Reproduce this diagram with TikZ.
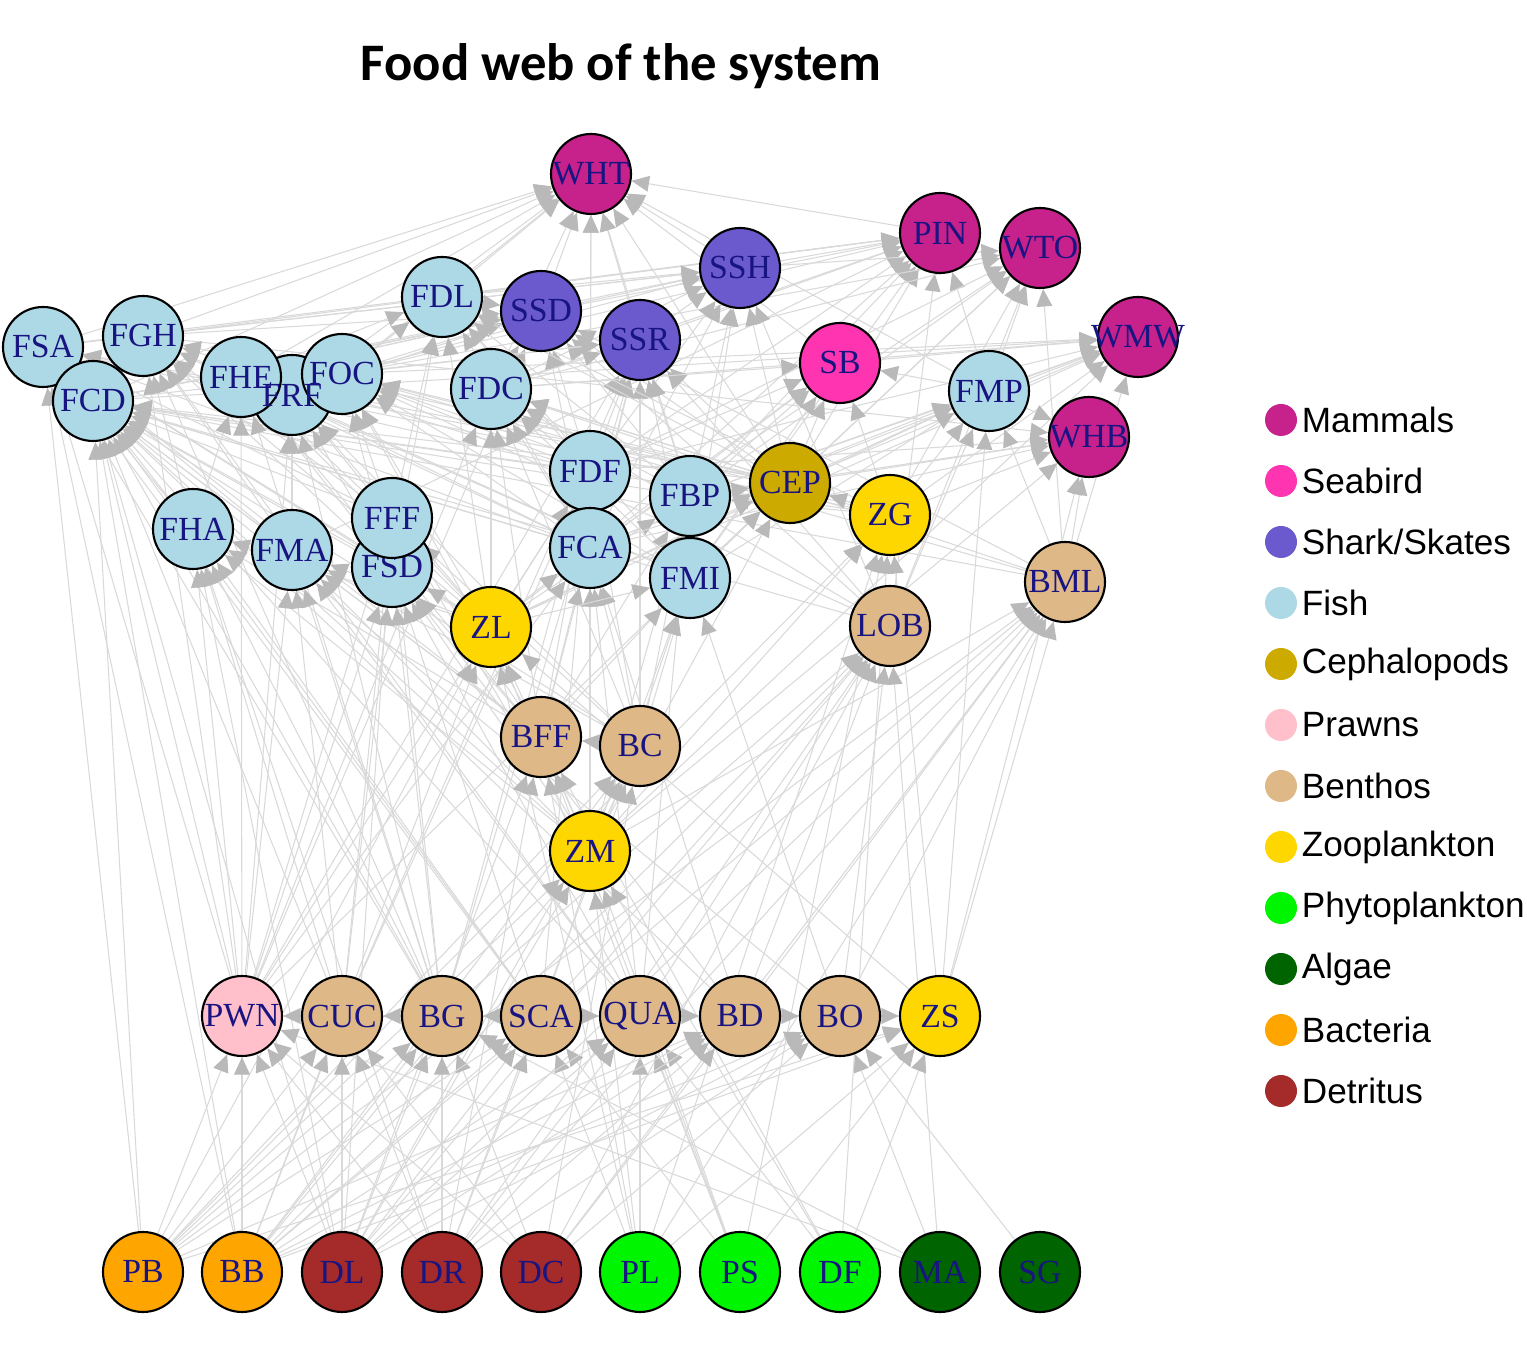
\documentclass[tikz,border=0pt]{standalone}
\usepackage{fontspec}
\setmainfont{Liberation Serif}
\newfontfamily\titlefont{Carlito}
\newfontfamily\legfont{Liberation Sans}
\usetikzlibrary{arrows.meta,positioning,backgrounds}

\definecolor{mammalc}{RGB}{199,33,140}
\definecolor{seabirdc}{RGB}{255,52,176}
\definecolor{sharkc}{RGB}{106,90,205}
\definecolor{fishc}{RGB}{173,216,230}
\definecolor{cephc}{RGB}{205,170,0}
\definecolor{prawnc}{RGB}{255,192,203}
\definecolor{benthc}{RGB}{222,184,135}
\definecolor{zooc}{RGB}{255,215,0}
\definecolor{phytoc}{RGB}{0,245,0}
\definecolor{algaec}{RGB}{0,100,0}
\definecolor{bactc}{RGB}{255,165,0}
\definecolor{detrc}{RGB}{165,42,42}
\definecolor{labelc}{RGB}{24,20,130}

\begin{document}
\begin{tikzpicture}
  \tikzstyle{sptxt}   = [inner sep=0pt,text=labelc,font=\fontsize{9.6}{10}\selectfont,
                         execute at begin node={\hbox to 0pt\bgroup\hss},execute at end node={\hss\egroup}]
  \tikzstyle{sp}      = [sptxt,circle,draw=black,line width=0.6pt,minimum size=0.8cm]
  \tikzstyle{mammal}  = [sp,fill=mammalc]
  \tikzstyle{seabird} = [sp,fill=seabirdc]
  \tikzstyle{shark}   = [sp,fill=sharkc]
  \tikzstyle{fish}    = [sp,fill=fishc]
  \tikzstyle{cephal}  = [sp,fill=cephc]
  \tikzstyle{prawn}   = [sp,fill=prawnc]
  \tikzstyle{benthos} = [sp,fill=benthc]
  \tikzstyle{zoo}     = [sp,fill=zooc]
  \tikzstyle{phyto}   = [sp,fill=phytoc]
  \tikzstyle{algae}   = [sp,fill=algaec]
  \tikzstyle{bact}    = [sp,fill=bactc]
  \tikzstyle{detr}    = [sp,fill=detrc]
  \tikzstyle{feed}    = [draw=gray!30,line width=0.3pt,-{Triangle[length=5pt,width=4.5pt,color=gray!55]}]
  \tikzstyle{legdot}  = [circle,minimum size=0.32cm,inner sep=0pt]
  \tikzstyle{legtxt}  = [inner sep=1pt,anchor=west,font=\legfont\fontsize{10}{12}\selectfont]
  \useasboundingbox (0,0) rectangle (15.27,13.48);

  \node[font=\titlefont\bfseries\fontsize{15}{18}\selectfont] (title) at (6.21,12.82) {Food web of the system};

  % top predators
  \node[mammal]  (WHT) at (5.91,11.74) {WHT};
  \node[mammal]  (PIN) at (9.40,11.15) {PIN};
  \node[mammal]  (WTO) at (10.40,11.00) {WTO};
  \node[mammal]  (WMW) at (11.38,10.11) {WMW};
  \node[mammal]  (WHB) at (10.89,9.11) {WHB};
  \node[shark]   (SSH) at (7.40,10.80) {SSH};
  \node[shark]   (SSD) at (5.41,10.37) {SSD};
  \node[shark]   (SSR) at (6.40,10.08) {SSR};
  \node[seabird] (SB)  at (8.40,9.85) {SB};

  % fish
  \node[fish] (FDL) at (4.42,10.51) {FDL};
  \node[fish] (FSA) at (0.43,10.01) {FSA};
  \node[fish] (FGH) at (1.43,10.12) {FGH};
  \node[fish] (FCD) at (0.93,9.47) {FCD};
  \node[fish] (FRF) at (2.92,9.53) {};
  \node[fish] (FHE) at (2.41,9.71) {FHE};
  \node[fish] (FOC) at (3.42,9.74) {FOC};
  \node[sptxt] (FRFtxt) at (FRF) {FRF};
  \node[fish] (FDC) at (4.91,9.59) {FDC};
  \node[fish] (FMP) at (9.89,9.57) {FMP};
  \node[fish] (FDF) at (5.90,8.77) {FDF};
  \node[fish] (FBP) at (6.90,8.52) {FBP};
  \node[fish] (FHA) at (1.93,8.19) {FHA};
  \node[fish] (FMA) at (2.92,7.98) {FMA};
  \node[fish] (FSD) at (3.92,7.81) {FSD};
  \node[fish] (FFF) at (3.92,8.30) {FFF};
  \node[fish] (FCA) at (5.90,8.00) {FCA};
  \node[fish] (FMI) at (6.90,7.70) {FMI};

  \node[cephal]  (CEP) at (7.90,8.65) {CEP};
  \node[zoo]     (ZG)  at (8.90,8.33) {ZG};
  \node[zoo]     (ZL)  at (4.91,7.21) {ZL};
  \node[benthos] (BML) at (10.65,7.66) {BML};
  \node[benthos] (LOB) at (8.90,7.22) {LOB};
  \node[benthos] (BFF) at (5.41,6.11) {BFF};
  \node[benthos] (BC)  at (6.40,6.02) {BC};
  \node[zoo]     (ZM)  at (5.90,4.97) {ZM};

  % lower row
  \node[prawn]   (PWN) at (2.42,3.32) {PWN};
  \node[benthos] (CUC) at (3.42,3.32) {CUC};
  \node[benthos] (BG)  at (4.42,3.32) {BG};
  \node[benthos] (SCA) at (5.41,3.32) {SCA};
  \node[benthos] (QUA) at (6.40,3.32) {QUA};
  \node[benthos] (BD)  at (7.40,3.32) {BD};
  \node[benthos] (BO)  at (8.40,3.32) {BO};
  \node[zoo]     (ZS)  at (9.40,3.32) {ZS};

  % basal row
  \node[bact]  (PB) at (1.43,0.76) {PB};
  \node[bact]  (BB) at (2.42,0.76) {BB};
  \node[detr]  (DL) at (3.42,0.76) {DL};
  \node[detr]  (DR) at (4.42,0.76) {DR};
  \node[detr]  (DC) at (5.41,0.76) {DC};
  \node[phyto] (PL) at (6.40,0.76) {PL};
  \node[phyto] (PS) at (7.40,0.76) {PS};
  \node[phyto] (DF) at (8.40,0.76) {DF};
  \node[algae] (MA) at (9.40,0.76) {MA};
  \node[algae] (SG) at (10.40,0.76) {SG};

  % feeding links, prey -> predator
  \begin{pgfonlayer}{background}
    \foreach \pred/\preys in {
      WHT/{FSA,FGH,FCD,FHE,FOC,FDL,SSD,SSR,FDC,FDF,FBP,CEP,SB,FMP,SSH,PIN,FRF,FCA},
      PIN/{FSA,FGH,FCD,FOC,FDL,FDC,FDF,FBP,CEP,FMP,SSR,FCA,FMI,LOB,FMA,SSH},
      WTO/{FDF,FBP,CEP,FMP,ZG,FCA,FMI,BML,SSH,FDC,FOC,LOB},
      WMW/{ZG,ZL,ZM,CEP,FMP,FDF,FBP,FCA,FDC,FCD,BML,SB,FOC},
      WHB/{ZG,ZS,ZM,FMP,FBP,FCA,FDF,CEP,BML,FGH},
      SSH/{FDL,FDC,FOC,FHE,FCD,FDF,FBP,CEP,FCA,FMI,SSR,FGH,FSA,LOB},
      SSD/{FDL,FDC,FOC,FRF,FHE,FDF,FBP,FCA,LOB,BML,CEP,PWN,FCD,FGH},
      SSR/{FDC,FDF,FBP,FCA,FMI,CEP,PWN,BG,CUC,LOB,BFF,BC,FOC,FCD},
      SB/{FDF,FBP,FCA,CEP,ZG,FMP,FMI,FDC,ZL},
      FSA/{FHA,FMA,FFF,FSD,CEP,ZL,ZG,PWN,BG,SCA,BFF,FDF,FCA,PB,BB},
      FGH/{FHA,FMA,FFF,FSD,FDF,FCA,FMI,CEP,PWN,BG,QUA,FCD,ZL},
      FCD/{FHA,FMA,FFF,FSD,FDF,FBP,FCA,FMI,ZL,ZG,CEP,PWN,CUC,BG,SCA,QUA,BD,BO,LOB,BML,BFF,BC,ZM,PB,BB,DL},
      FHE/{FFF,FSD,FCA,FMI,CEP,ZL,PWN,BG,BFF,FHA},
      FRF/{FFF,FSD,ZL,PWN,BG,BC,FMA},
      FOC/{FDF,FCA,FBP,FMI,CEP,ZL,ZG,LOB,BML,BFF,FFF,FSD},
      FDL/{FDF,FBP,FCA,CEP,ZG,FMI,FFF,FSD,ZL,FHE,FOC},
      FDC/{FDF,FBP,FCA,FMI,CEP,ZG,ZL,BFF,BC,LOB,BML,PWN},
      FMP/{ZG,ZL,CEP,FBP,FCA,BML,LOB,FMI,ZS},
      FDF/{ZL,ZM,BFF,BC,PWN,CUC,BG,SCA},
      FBP/{ZG,ZL,ZM,BC,BFF,QUA,FMI},
      CEP/{ZG,ZL,ZM,FMI,FCA,PWN,FBP},
      ZG/{ZS,PL,PS,DF,PB,ZM},
      FHA/{PWN,CUC,BG,SCA,BFF,ZL,ZM,DL,DR},
      FMA/{PWN,BG,CUC,BFF,BC,ZM,ZL,QUA},
      FFF/{ZL,ZM,PWN,CUC,BG,BFF,BC,DL},
      FSD/{PWN,CUC,BG,SCA,QUA,BD,BFF,ZM,ZL},
      FCA/{ZL,ZM,BFF,BC,PWN,QUA,BD},
      FMI/{ZL,ZM,BC,BFF,SCA,BO},
      BML/{ZM,ZS,BD,BO,DL,DR,DC,PB,BB,PL},
      LOB/{BD,BO,QUA,SCA,BG,DL,DR,DC,BB,MA},
      ZL/{ZM,ZS,PL,PS,PB,BB},
      BFF/{ZM,PL,PS,DF,DL,DR,BC},
      BC/{ZM,DL,DR,DC,BB,PB},
      ZM/{PL,PS,DF,PB,BB,DL},
      PWN/{DL,DR,DC,PB,BB,MA,CUC},
      CUC/{DL,DR,DC,PB,BB,BG},
      BG/{DL,DR,DC,PB,BB,MA,SCA},
      SCA/{DL,DR,PS,PL,PB,BB},
      QUA/{DL,DR,PL,PS,DF,BB,SCA},
      BD/{DL,DR,DC,BB,PB,QUA},
      BO/{DL,DR,DC,BB,MA,SG,BD},
      ZS/{PL,PS,DF,PB,BB,BO}}
      \foreach \prey in \preys
        \draw[feed] (\prey) -- (\pred);
  \end{pgfonlayer}

  % legend
  \foreach \col/\txt [count=\i] in {mammalc/Mammals,seabirdc/Seabird,sharkc/{Shark/Skates},fishc/Fish,
      cephc/Cephalopods,prawnc/Prawns,benthc/Benthos,zooc/Zooplankton,phytoc/Phytoplankton,
      algaec/Algae,bactc/Bacteria,detrc/Detritus} {
    \node[legdot,fill=\col] (ld\i) at (12.81,{9.28-0.61*(\i-1)}) {};
    \node[legtxt,right=0pt of ld\i] (lt\i) {\txt};
  }
\end{tikzpicture}
\end{document}
